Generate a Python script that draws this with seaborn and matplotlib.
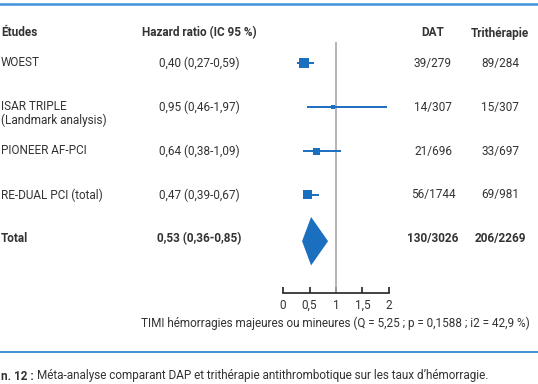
import matplotlib.pyplot as plt
import matplotlib.transforms as mtransforms
from matplotlib.lines import Line2D
import seaborn as sns
import pandas as pd

# study rows
studies = ["WOEST", "ISAR TRIPLE\n(Landmark analysis)", "PIONEER AF-PCI", "RE-DUAL PCI (total)"]
hr = [0.40, 0.95, 0.64, 0.47]
ci_low = [0.27, 0.46, 0.38, 0.39]
ci_high = [0.59, 1.97, 1.09, 0.67]
box_weight = [10.5, 4, 7, 9]  # relative weight
dat = ["39/279", "14/307", "21/696", "56/1744"]
tri = ["89/284", "15/307", "33/697", "69/981"]

# pooled result
total_hr, total_low, total_high = 0.53, 0.36, 0.85
total_dat, total_tri = "130/3026", "206/2269"

x_ticks = [0, 0.5, 1, 1.5, 2]
x_tick_labels = ["0", "0,5", "1", "1,5", "2"]
axis_caption = "TIMI hémorragies majeures ou mineures (Q = 5,25 ; p = 0,1588 ; i2 = 42,9 %)"
fig_caption = "Méta-analyse comparant DAP et trithérapie antithrombotique sur les taux d’hémorragie."

BLUE = "#1a6fbf"
RULE = "#3f93d8"
TEXT = "#333333"
FS = 8.5


def fmt(v):
    return f"{v:.2f}".replace(".", ",")


sns.set_theme(style="white")
plt.rcParams["font.family"] = ["Roboto", "DejaVu Sans"]
plt.rcParams["font.size"] = FS
plt.rcParams["text.color"] = TEXT

W, H = 538, 384
fig = plt.figure(figsize=(W / 100, H / 100), dpi=100)
ax = fig.add_axes([283 / W, 1 - 293 / H, 106 / W, (293 - 42) / H])

df = pd.DataFrame({"study": studies, "hr": hr, "low": ci_low, "high": ci_high,
                   "weight": box_weight, "row": range(len(studies))})
total_row = len(studies)

# confidence intervals + weighted boxes
ax.hlines(df["row"], df["low"], df["high"], color=BLUE, lw=1.4, zorder=2)
sns.scatterplot(data=df, x="hr", y="row", size="weight",
                sizes={w: (w * 0.72) ** 2 for w in box_weight},
                marker="s", color=BLUE, edgecolor="none", linewidth=0,
                legend=False, ax=ax, zorder=3)

# pooled diamond
ax.fill([total_low, total_hr, total_high, total_hr],
        [total_row + 0.05, total_row - 0.5, total_row + 0.05, total_row + 0.6],
        color=BLUE, lw=0, zorder=3)

ax.axvline(1, color="#a8a8a8", lw=1.2, zorder=1)

ax.set_xlim(0, 2)
ax.set_ylim((293 - 63) / 44, (42 - 63) / 44)
ax.set_xticks(x_ticks)
ax.set_xticklabels(x_tick_labels)
ax.set_yticks([])
ax.set_xlabel("")
ax.set_ylabel("")
for side in ["top", "left", "right"]:
    ax.spines[side].set_visible(False)
ax.spines["bottom"].set_color("#222222")
ax.spines["bottom"].set_linewidth(1.2)
ax.tick_params(axis="x", direction="in", length=4, width=1.2, color="#222222",
               pad=4, labelsize=FS, labelcolor=TEXT, bottom=True)

# table columns (x in figure px, y in row units)
tr = mtransforms.blended_transform_factory(fig.transFigure, ax.transData)
x_name, x_hr, x_dat, x_tri = 1 / W, 199 / W, 433 / W, 500 / W
head_y = (33 - 63) / 44

fig.text(x_name, head_y, "Études", transform=tr, ha="left", va="center", weight="bold")
fig.text(x_hr, head_y, "Hazard ratio (IC 95 %)", transform=tr, ha="center", va="center", weight="bold")
fig.text(x_dat, head_y, "DAT", transform=tr, ha="center", va="center", weight="bold")
fig.text(x_tri, head_y, "Trithérapie", transform=tr, ha="center", va="center", weight="bold")

for i, row in df.iterrows():
    for k, line in enumerate(row["study"].split("\n")):
        fig.text(x_name, i + k * 0.31, line, transform=tr, ha="left", va="center")
    fig.text(x_hr, i, f"{fmt(row['hr'])} ({fmt(row['low'])}-{fmt(row['high'])})",
             transform=tr, ha="center", va="center")
    fig.text(x_dat, i, dat[i], transform=tr, ha="center", va="center")
    fig.text(x_tri, i, tri[i], transform=tr, ha="center", va="center")

fig.text(x_name, total_row, "Total", transform=tr, ha="left", va="center", weight="bold")
fig.text(x_hr, total_row, f"{fmt(total_hr)} ({fmt(total_low)}-{fmt(total_high)})",
         transform=tr, ha="center", va="center", weight="bold")
fig.text(x_dat, total_row, total_dat, transform=tr, ha="center", va="center", weight="bold")
fig.text(x_tri, total_row, total_tri, transform=tr, ha="center", va="center", weight="bold")

fig.text(335 / W, 1 - 323 / H, axis_caption, ha="center", va="center")

# blue rules and figure caption
fig.add_artist(Line2D([0, 1], [1 - 3.5 / H, 1 - 3.5 / H], color=RULE, lw=1.8,
                      transform=fig.transFigure))
fig.add_artist(Line2D([0, 1], [1 - 352 / H, 1 - 352 / H], color=RULE, lw=1.4,
                      transform=fig.transFigure))
prefix = fig.text(1 / W, 1 - 376 / H, "n. 12 :", ha="left", va="center", weight="bold")
ax.annotate(fig_caption, xy=(1, 0.5), xycoords=prefix, xytext=(2.5, 0),
            textcoords="offset points", ha="left", va="center",
            annotation_clip=False, fontsize=FS, color=TEXT)

fig.savefig("out.png", dpi=100)
plt.close(fig)
